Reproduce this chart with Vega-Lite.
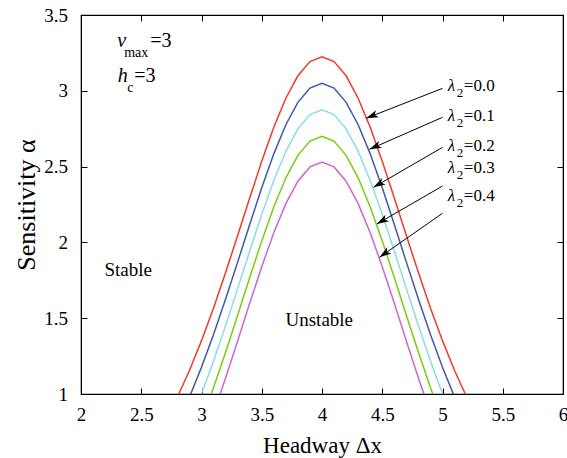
{
  "$schema": "https://vega.github.io/schema/vega-lite/v6.json",
  "width": 482,
  "height": 379,
  "autosize": {"type": "none"},
  "padding": {"left": 81, "top": 15, "right": 4, "bottom": 64},
  "config": {
    "font": "Liberation Serif",
    "text": {"font": "Liberation Serif"},
    "view": {"stroke": "black", "strokeWidth": 1.2},
    "axis": {
      "domainColor": "black", "tickColor": "black", "labelColor": "black", "titleColor": "black",
      "grid": false, "tickSize": -6, "labelFontSize": 19, "titleFontSize": 23, "titleFontWeight": "normal",
      "labelFont": "Liberation Serif", "titleFont": "Liberation Serif", "labelOverlap": false, "labelFlush": false
    }
  },
  "datasets": {
    "curves": [
      {"s":"0.0","x":2.8,"y":0.980},{"s":"0.0","x":2.9,"y":1.155},{"s":"0.0","x":3.0,"y":1.352},{"s":"0.0","x":3.1,"y":1.568},{"s":"0.0","x":3.2,"y":1.801},{"s":"0.0","x":3.3,"y":2.045},{"s":"0.0","x":3.4,"y":2.293},{"s":"0.0","x":3.5,"y":2.535},{"s":"0.0","x":3.6,"y":2.759},{"s":"0.0","x":3.7,"y":2.951},{"s":"0.0","x":3.8,"y":3.099},{"s":"0.0","x":3.9,"y":3.193},{"s":"0.0","x":4.0,"y":3.225},{"s":"0.0","x":4.1,"y":3.193},{"s":"0.0","x":4.2,"y":3.099},{"s":"0.0","x":4.3,"y":2.951},{"s":"0.0","x":4.4,"y":2.759},{"s":"0.0","x":4.5,"y":2.535},{"s":"0.0","x":4.6,"y":2.293},{"s":"0.0","x":4.7,"y":2.045},{"s":"0.0","x":4.8,"y":1.801},{"s":"0.0","x":4.9,"y":1.568},{"s":"0.0","x":5.0,"y":1.352},{"s":"0.0","x":5.1,"y":1.155},{"s":"0.0","x":5.2,"y":0.980},
      {"s":"0.1","x":2.9,"y":0.980},{"s":"0.1","x":3.0,"y":1.177},{"s":"0.1","x":3.1,"y":1.393},{"s":"0.1","x":3.2,"y":1.626},{"s":"0.1","x":3.3,"y":1.870},{"s":"0.1","x":3.4,"y":2.118},{"s":"0.1","x":3.5,"y":2.360},{"s":"0.1","x":3.6,"y":2.584},{"s":"0.1","x":3.7,"y":2.776},{"s":"0.1","x":3.8,"y":2.924},{"s":"0.1","x":3.9,"y":3.018},{"s":"0.1","x":4.0,"y":3.050},{"s":"0.1","x":4.1,"y":3.018},{"s":"0.1","x":4.2,"y":2.924},{"s":"0.1","x":4.3,"y":2.776},{"s":"0.1","x":4.4,"y":2.584},{"s":"0.1","x":4.5,"y":2.360},{"s":"0.1","x":4.6,"y":2.118},{"s":"0.1","x":4.7,"y":1.870},{"s":"0.1","x":4.8,"y":1.626},{"s":"0.1","x":4.9,"y":1.393},{"s":"0.1","x":5.0,"y":1.177},{"s":"0.1","x":5.1,"y":0.980},
      {"s":"0.2","x":2.9,"y":0.805},{"s":"0.2","x":3.0,"y":1.002},{"s":"0.2","x":3.1,"y":1.218},{"s":"0.2","x":3.2,"y":1.451},{"s":"0.2","x":3.3,"y":1.695},{"s":"0.2","x":3.4,"y":1.943},{"s":"0.2","x":3.5,"y":2.185},{"s":"0.2","x":3.6,"y":2.409},{"s":"0.2","x":3.7,"y":2.601},{"s":"0.2","x":3.8,"y":2.749},{"s":"0.2","x":3.9,"y":2.843},{"s":"0.2","x":4.0,"y":2.875},{"s":"0.2","x":4.1,"y":2.843},{"s":"0.2","x":4.2,"y":2.749},{"s":"0.2","x":4.3,"y":2.601},{"s":"0.2","x":4.4,"y":2.409},{"s":"0.2","x":4.5,"y":2.185},{"s":"0.2","x":4.6,"y":1.943},{"s":"0.2","x":4.7,"y":1.695},{"s":"0.2","x":4.8,"y":1.451},{"s":"0.2","x":4.9,"y":1.218},{"s":"0.2","x":5.0,"y":1.002},{"s":"0.2","x":5.1,"y":0.805},
      {"s":"0.3","x":3.0,"y":0.827},{"s":"0.3","x":3.1,"y":1.043},{"s":"0.3","x":3.2,"y":1.276},{"s":"0.3","x":3.3,"y":1.520},{"s":"0.3","x":3.4,"y":1.768},{"s":"0.3","x":3.5,"y":2.010},{"s":"0.3","x":3.6,"y":2.234},{"s":"0.3","x":3.7,"y":2.426},{"s":"0.3","x":3.8,"y":2.574},{"s":"0.3","x":3.9,"y":2.668},{"s":"0.3","x":4.0,"y":2.700},{"s":"0.3","x":4.1,"y":2.668},{"s":"0.3","x":4.2,"y":2.574},{"s":"0.3","x":4.3,"y":2.426},{"s":"0.3","x":4.4,"y":2.234},{"s":"0.3","x":4.5,"y":2.010},{"s":"0.3","x":4.6,"y":1.768},{"s":"0.3","x":4.7,"y":1.520},{"s":"0.3","x":4.8,"y":1.276},{"s":"0.3","x":4.9,"y":1.043},{"s":"0.3","x":5.0,"y":0.827},
      {"s":"0.4","x":3.1,"y":0.873},{"s":"0.4","x":3.2,"y":1.106},{"s":"0.4","x":3.3,"y":1.350},{"s":"0.4","x":3.4,"y":1.598},{"s":"0.4","x":3.5,"y":1.840},{"s":"0.4","x":3.6,"y":2.064},{"s":"0.4","x":3.7,"y":2.256},{"s":"0.4","x":3.8,"y":2.404},{"s":"0.4","x":3.9,"y":2.498},{"s":"0.4","x":4.0,"y":2.530},{"s":"0.4","x":4.1,"y":2.498},{"s":"0.4","x":4.2,"y":2.404},{"s":"0.4","x":4.3,"y":2.256},{"s":"0.4","x":4.4,"y":2.064},{"s":"0.4","x":4.5,"y":1.840},{"s":"0.4","x":4.6,"y":1.598},{"s":"0.4","x":4.7,"y":1.350},{"s":"0.4","x":4.8,"y":1.106},{"s":"0.4","x":4.9,"y":0.873}
    ],
    "arrows": [
      {"sym":"λ","sub":"2","eq":"=0.0","x1":5.0,"y1":3.016,"x2":4.367,"y2":2.819,"ang":248,"lx":5.044,"ly":3.0},
      {"sym":"λ","sub":"2","eq":"=0.1","x1":5.0,"y1":2.825,"x2":4.394,"y2":2.614,"ang":246,"lx":5.044,"ly":2.803},
      {"sym":"λ","sub":"2","eq":"=0.2","x1":5.0,"y1":2.627,"x2":4.427,"y2":2.363,"ang":240,"lx":5.044,"ly":2.605},
      {"sym":"λ","sub":"2","eq":"=0.3","x1":5.0,"y1":2.372,"x2":4.455,"y2":2.121,"ang":240,"lx":5.044,"ly":2.46},
      {"sym":"λ","sub":"2","eq":"=0.4","x1":5.0,"y1":2.192,"x2":4.477,"y2":1.902,"ang":235,"lx":5.044,"ly":2.275}
    ],
    "regions": [
      {"t":"Stable","x":2.195,"y":1.82},
      {"t":"Unstable","x":3.697,"y":1.49}
    ],
    "vlab": [{"sym":"v","sub":"max","eq":"=3","x":2.30,"y":3.289}],
    "hlab": [{"sym":"h","sub":"c","eq":"=3","x":2.305,"y":3.058}]
  },
  "layer": [
    {
      "data": {"name": "curves"},
      "mark": {"type": "line", "clip": true, "strokeWidth": 1.5},
      "encoding": {
        "x": {"field": "x", "type": "quantitative",
              "scale": {"domain": [2, 6], "nice": false, "zero": false},
              "axis": {"orient": "bottom", "values": [2,2.5,3,3.5,4,4.5,5,5.5,6], "format": "~g",
                       "labelPadding": 17, "title": "Headway Δx", "titleY": 58, "titleBaseline": "alphabetic"}},
        "y": {"field": "y", "type": "quantitative",
              "scale": {"domain": [1, 3.5], "nice": false, "zero": false},
              "axis": {"orient": "left", "values": [1,1.5,2,2.5,3,3.5], "format": "~g",
                       "labelPadding": 19.5, "title": "Sensitivity α", "titleFontSize": 26, "titleX": -47, "titleBaseline": "alphabetic"}},
        "color": {"field": "s", "type": "nominal",
                  "scale": {"domain": ["0.0","0.1","0.2","0.3","0.4"],
                            "range": ["#f03a2a","#3a5aaa","#88dde8","#7acc10","#cc66cc"]},
                  "legend": null}
      }
    },
    {
      "data": {"name": "arrows"},
      "mark": {"type": "rule", "color": "black", "strokeWidth": 1},
      "encoding": {
        "x": {"field": "x1", "type": "quantitative",
              "axis": {"orient": "top", "values": [2,2.5,3,3.5,4,4.5,5,5.5,6], "labels": false, "title": null}},
        "y": {"field": "y1", "type": "quantitative",
              "axis": {"orient": "right", "values": [1,1.5,2,2.5,3,3.5], "labels": false, "title": null}},
        "x2": {"field": "x2"},
        "y2": {"field": "y2"}
      }
    },
    {
      "data": {"name": "arrows"},
      "mark": {"type": "point", "shape": "M0,0 L0.5,1.6 L0,1.2 L-0.5,1.6 Z", "filled": true, "color": "black", "opacity": 1, "size": 225},
      "encoding": {
        "x": {"field": "x2", "type": "quantitative", "axis": null},
        "y": {"field": "y2", "type": "quantitative", "axis": null},
        "angle": {"field": "ang", "type": "quantitative", "scale": null}
      }
    },
    {
      "data": {"name": "arrows"},
      "mark": {"type": "text", "font": "Liberation Serif", "fontSize": 17, "fontStyle": "italic", "align": "left", "baseline": "alphabetic", "color": "black"},
      "encoding": {
        "x": {"field": "lx", "type": "quantitative", "axis": null},
        "y": {"field": "ly", "type": "quantitative", "axis": null},
        "text": {"field": "sym"}
      }
    },
    {
      "data": {"name": "arrows"},
      "mark": {"type": "text", "font": "Liberation Serif", "fontSize": 13, "align": "left", "baseline": "alphabetic", "dx": 9, "dy": 6, "color": "black"},
      "encoding": {
        "x": {"field": "lx", "type": "quantitative", "axis": null},
        "y": {"field": "ly", "type": "quantitative", "axis": null},
        "text": {"field": "sub"}
      }
    },
    {
      "data": {"name": "arrows"},
      "mark": {"type": "text", "font": "Liberation Serif", "fontSize": 17, "align": "left", "baseline": "alphabetic", "dx": 16, "color": "black"},
      "encoding": {
        "x": {"field": "lx", "type": "quantitative", "axis": null},
        "y": {"field": "ly", "type": "quantitative", "axis": null},
        "text": {"field": "eq"}
      }
    },
    {
      "data": {"name": "vlab"},
      "mark": {"type": "text", "font": "Liberation Serif", "fontSize": 20, "fontStyle": "italic", "align": "left", "baseline": "alphabetic", "color": "black"},
      "encoding": {
        "x": {"field": "x", "type": "quantitative", "axis": null},
        "y": {"field": "y", "type": "quantitative", "axis": null},
        "text": {"field": "sym"}
      }
    },
    {
      "data": {"name": "vlab"},
      "mark": {"type": "text", "font": "Liberation Serif", "fontSize": 14, "align": "left", "baseline": "alphabetic", "dx": 7, "dy": 10, "color": "black"},
      "encoding": {
        "x": {"field": "x", "type": "quantitative", "axis": null},
        "y": {"field": "y", "type": "quantitative", "axis": null},
        "text": {"field": "sub"}
      }
    },
    {
      "data": {"name": "vlab"},
      "mark": {"type": "text", "font": "Liberation Serif", "fontSize": 20, "align": "left", "baseline": "alphabetic", "dx": 33, "color": "black"},
      "encoding": {
        "x": {"field": "x", "type": "quantitative", "axis": null},
        "y": {"field": "y", "type": "quantitative", "axis": null},
        "text": {"field": "eq"}
      }
    },
    {
      "data": {"name": "hlab"},
      "mark": {"type": "text", "font": "Liberation Serif", "fontSize": 20, "fontStyle": "italic", "align": "left", "baseline": "alphabetic", "color": "black"},
      "encoding": {
        "x": {"field": "x", "type": "quantitative", "axis": null},
        "y": {"field": "y", "type": "quantitative", "axis": null},
        "text": {"field": "sym"}
      }
    },
    {
      "data": {"name": "hlab"},
      "mark": {"type": "text", "font": "Liberation Serif", "fontSize": 14, "align": "left", "baseline": "alphabetic", "dx": 9.5, "dy": 10, "color": "black"},
      "encoding": {
        "x": {"field": "x", "type": "quantitative", "axis": null},
        "y": {"field": "y", "type": "quantitative", "axis": null},
        "text": {"field": "sub"}
      }
    },
    {
      "data": {"name": "hlab"},
      "mark": {"type": "text", "font": "Liberation Serif", "fontSize": 20, "align": "left", "baseline": "alphabetic", "dx": 16.5, "color": "black"},
      "encoding": {
        "x": {"field": "x", "type": "quantitative", "axis": null},
        "y": {"field": "y", "type": "quantitative", "axis": null},
        "text": {"field": "eq"}
      }
    },
    {
      "data": {"name": "regions"},
      "mark": {"type": "text", "font": "Liberation Serif", "fontSize": 19, "align": "left", "baseline": "middle", "color": "black"},
      "encoding": {
        "x": {"field": "x", "type": "quantitative", "axis": null},
        "y": {"field": "y", "type": "quantitative", "axis": null},
        "text": {"field": "t"}
      }
    }
  ],
  "resolve": {"axis": {"x": "independent", "y": "independent"}}
}
